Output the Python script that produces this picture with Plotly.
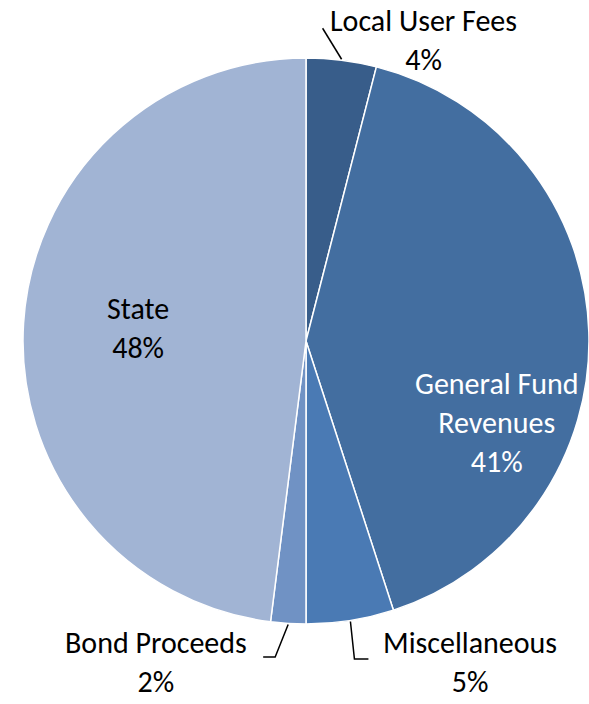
import math
import plotly.graph_objects as go

# Revenue sources, clockwise from 12 o'clock
categories = ["Local User Fees", "General Fund Revenues", "Miscellaneous", "Bond Proceeds", "State"]
shares = [4, 41, 5, 2, 48]
slice_colors = ["#385D8A", "#436EA0", "#4A7AB4", "#7092C4", "#A1B4D4"]

W, H = 589, 704
CX, CY, R = 306, 341, 283  # pie centre and radius in pixels
FONT = "Calibri, Carlito, Lato, sans-serif"
FS = 30


def px(x, y):
    return x / W, 1 - y / H


def edge_point(idx, pad=0.0):
    """Pixel point on the rim at the middle of slice idx."""
    total = sum(shares)
    start = sum(shares[:idx]) / total
    mid = (start + shares[idx] / total / 2) * 2 * math.pi
    return CX + (R + pad) * math.sin(mid), CY - (R + pad) * math.cos(mid)


fig = go.Figure(go.Pie(
    labels=categories,
    values=shares,
    sort=False,
    direction="clockwise",
    rotation=0,
    marker=dict(colors=slice_colors, line=dict(color="white", width=1.5)),
    textinfo="none",
    hoverinfo="label+percent",
    showlegend=False,
    domain=dict(x=[(CX - R) / W, (CX + R) / W], y=[(H - CY - R) / H, (H - CY + R) / H]),
))

annotations = []
shapes = []


def add_label(idx, x, y, color="black"):
    xp, yp = px(x, y)
    name = categories[idx]
    if name == "General Fund Revenues":
        name = "General Fund<br>Revenues"
    annotations.append(dict(
        x=xp, y=yp, xref="paper", yref="paper", showarrow=False,
        text=f"{name}<br>{shares[idx]}%", align="center",
        font=dict(family=FONT, size=FS, color=color),
        xanchor="center", yanchor="middle", borderpad=0,
    ))


add_label(0, 423, 40)
add_label(1, 497, 422, color="white")
add_label(2, 470, 662)
add_label(3, 156, 662)
add_label(4, 138, 328)


def add_leader(points):
    path = ""
    for i, (x, y) in enumerate(points):
        xp, yp = px(x, y)
        path += ("M" if i == 0 else " L") + f" {xp} {yp}"
    shapes.append(dict(type="path", path=path, xref="paper", yref="paper",
                       line=dict(color="black", width=1.5)))


# Local User Fees: straight leader from rim up to the label
ex, ey = edge_point(0, 1)
add_leader([(ex, ey), (ex - 19, ey - 31)])
# Miscellaneous: drop down then elbow right
ex, ey = edge_point(2, 1)
add_leader([(ex, ey), (ex + 4, 659), (ex + 18, 659)])
# Bond Proceeds: slant down-left then elbow left
ex, ey = edge_point(3, 1)
add_leader([(ex, ey), (ex - 13, 657), (ex - 25, 657)])

fig.update_layout(
    width=W, height=H,
    margin=dict(l=0, r=0, t=0, b=0),
    paper_bgcolor="white", plot_bgcolor="white",
    annotations=annotations, shapes=shapes,
)

fig.write_html("out.html")
